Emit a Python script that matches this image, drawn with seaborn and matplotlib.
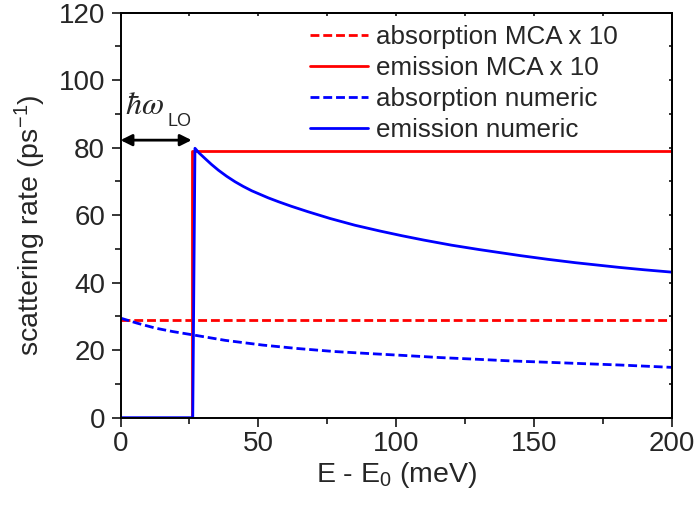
import matplotlib
matplotlib.use("Agg")
import matplotlib.pyplot as plt
import seaborn as sns
import pandas as pd

# ---- data (energy above band edge in meV, rates in ps^-1) ----
abs_mca_x = [0, 200]
abs_mca_y = [28.9, 28.9]

em_mca_x = [0, 25.8, 25.8, 200]
em_mca_y = [0, 0, 79.0, 79.0]

abs_num_x = [0, 6, 12.8, 19, 25.7, 38, 51.6, 64, 77.5, 90, 103.4, 116, 129.3, 142, 155.2, 168, 181.1, 200]
abs_num_y = [29.5, 28.0, 26.5, 25.5, 24.6, 22.9, 21.5, 20.5, 19.6, 19.0, 18.4, 17.8, 17.3, 16.8, 16.4, 16.0, 15.6, 14.9]

em_num_x = [0, 26.2, 27.0, 28.5, 30.6, 33.0, 35.5, 38.5, 41.5, 44.5, 47.6, 53.6, 57.5, 62.0, 68.0, 76.0,
            85.0, 94.0, 102.0, 110.0, 120.0, 130.0, 145.0, 155.0, 165.0, 181.0, 190.0, 200.0]
em_num_y = [0, 0, 79.8, 78.4, 76.8, 75.0, 73.3, 71.5, 69.9, 68.5, 67.2, 65.1, 63.9, 62.6, 61.0, 59.0,
            57.0, 55.3, 53.9, 52.6, 51.1, 49.8, 48.0, 46.9, 45.9, 44.5, 43.8, 43.1]

labels = ["absorption MCA x 10", "emission MCA x 10", "absorption numeric", "emission numeric"]
xlabel = r"E - E$_{\mathregular{0}}$ (meV)"
ylabel = r"scattering rate (ps$^{\mathregular{-1}}$)"
xticks = [0, 50, 100, 150, 200]
yticks = [0, 20, 40, 60, 80, 100, 120]

sns.set_theme(style="white")
plt.rcParams["font.family"] = ["Liberation Sans", "DejaVu Sans"]
plt.rcParams["mathtext.fontset"] = "custom"
plt.rcParams["mathtext.rm"] = "Liberation Sans"
plt.rcParams["mathtext.it"] = "Liberation Sans:italic"

fig = plt.figure(figsize=(6.99, 5.09), dpi=100)
ax = fig.add_axes([0.1724, 0.1794, 0.9614 - 0.1724, 0.9754 - 0.1794])

dash = (0, (3.2, 1.4))
series = [
    (abs_mca_x, abs_mca_y, "#ff0000", dash, labels[0]),
    (em_mca_x, em_mca_y, "#ff0000", "-", labels[1]),
    (abs_num_x, abs_num_y, "#0000ff", dash, labels[2]),
    (em_num_x, em_num_y, "#0000ff", "-", labels[3]),
]
for xs, ys, col, ls, lab in series:
    df = pd.DataFrame({"x": xs, "y": ys})
    sns.lineplot(data=df, x="x", y="y", ax=ax, color=col, linestyle=ls,
                 linewidth=2.0, estimator=None, sort=False, label=lab)

ax.set_xlim(0, 200)
ax.set_ylim(0, 120)
ax.set_xticks(xticks)
ax.set_yticks(yticks)
ax.set_xticks([25, 75, 125, 175], minor=True)
ax.set_yticks([10, 30, 50, 70, 90, 110], minor=True)
ax.set_xlabel(xlabel, fontsize=20.5, labelpad=2)
ax.set_ylabel(ylabel, fontsize=20.5, labelpad=7)
ax.yaxis.set_label_coords(-0.131, 0.476)
ax.tick_params(axis="both", which="major", direction="out", length=6.5, width=1.1,
               labelsize=20, color="black", pad=3, bottom=True, left=True)
ax.tick_params(axis="y", which="major", pad=4.5)
ax.tick_params(axis="both", which="minor", direction="out", length=4, width=1.1,
               color="black", bottom=True, left=True)
for sp in ax.spines.values():
    sp.set_visible(True)
    sp.set_color("black")
    sp.set_linewidth(1.4)

# tiny inward stubs on the top and right edges
top = ax.secondary_xaxis("top")
top.set_xticks(xticks)
top.set_xticks([25, 75, 125, 175], minor=True)
top.tick_params(which="both", direction="in", length=2, width=1.1, labeltop=False, color="black")
top.spines["top"].set_linewidth(1.4)
right = ax.secondary_yaxis("right")
right.set_yticks(yticks)
right.set_yticks([10, 30, 50, 70, 90, 110], minor=True)
right.tick_params(which="both", direction="in", length=2, width=1.1, labelright=False, color="black")
right.spines["right"].set_linewidth(1.4)

# LO phonon energy marker
ax.annotate("", xy=(0, 82.2), xytext=(25.8, 82.2),
            arrowprops=dict(arrowstyle="<|-|>", color="black", lw=2.0,
                            mutation_scale=17, shrinkA=0, shrinkB=0))
ax.text(1.8, 90.0, r"$\hbar\omega$", fontsize=23, va="baseline", ha="left",
        math_fontfamily="stix")
ax.text(16.9, 86.4, "LO", fontsize=13, va="baseline", ha="left")

leg = ax.legend(loc="upper left", bbox_to_anchor=(0.3436, 0.969), frameon=False,
                fontsize=18.7, handlelength=2.23, handletextpad=0.3,
                labelspacing=0.27, borderpad=0, borderaxespad=0)

fig.savefig("out.png", dpi=100)
